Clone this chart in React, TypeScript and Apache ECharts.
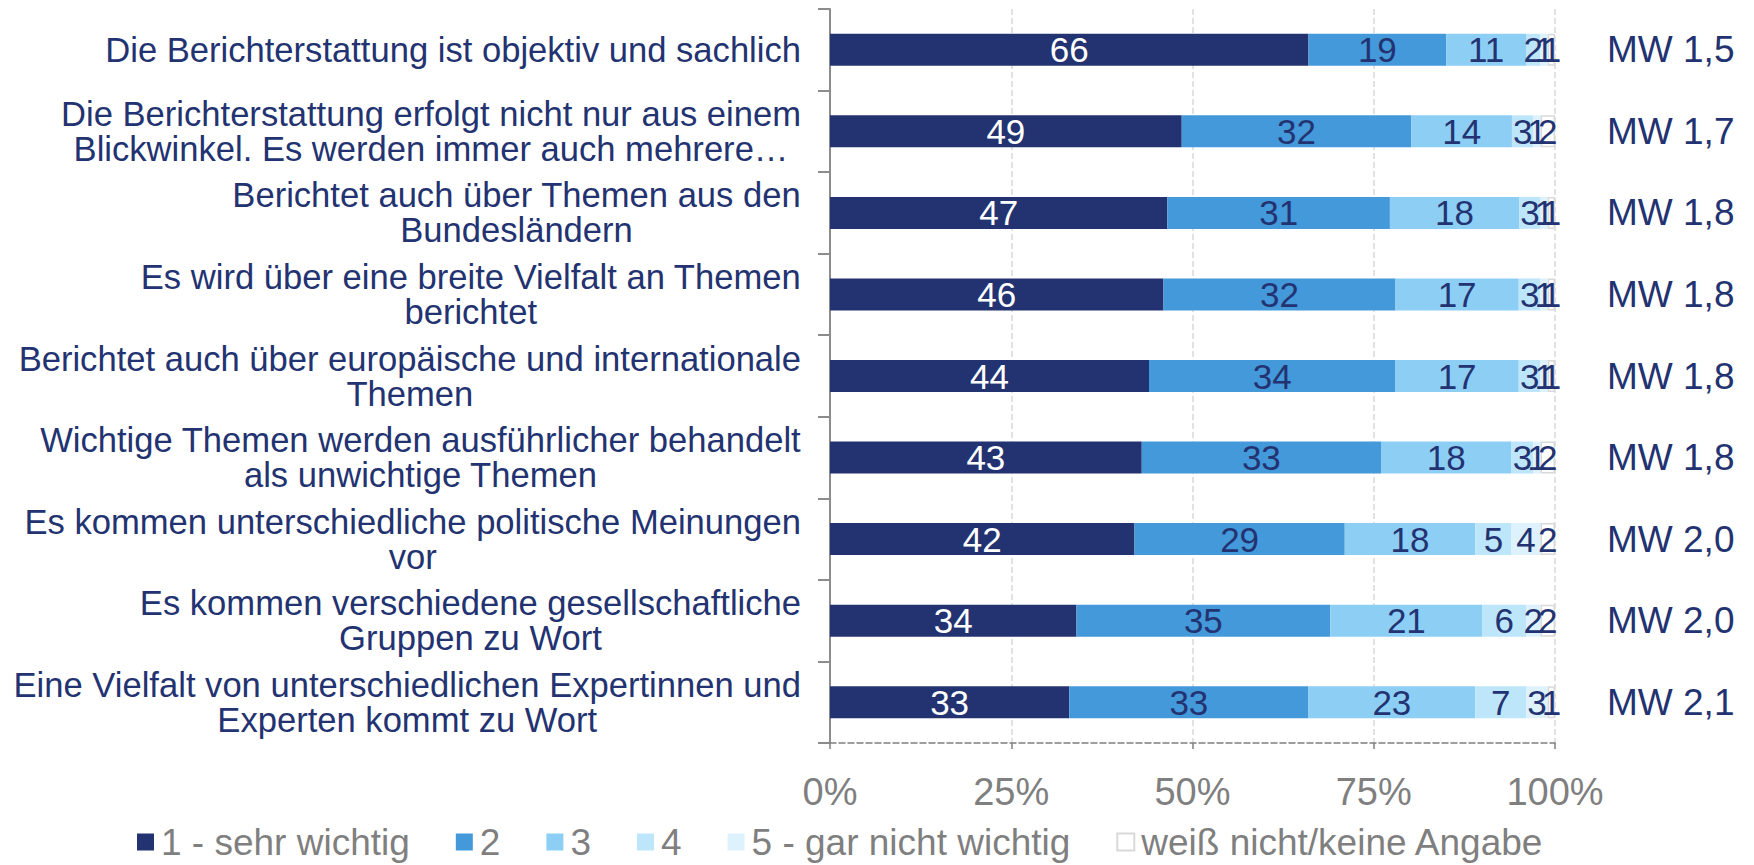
import React, { useEffect, useRef } from "react";
import * as echarts from "echarts";

const categories = [
  "Die Berichterstattung ist objektiv und sachlich",
  "Die Berichterstattung erfolgt nicht nur aus einem\nBlickwinkel. Es werden immer auch mehrere…",
  "Berichtet auch über Themen aus den\nBundesländern",
  "Es wird über eine breite Vielfalt an Themen\nberichtet",
  "Berichtet auch über europäische und internationale\nThemen",
  "Wichtige Themen werden ausführlicher behandelt\nals unwichtige Themen",
  "Es kommen unterschiedliche politische Meinungen\nvor",
  "Es kommen verschiedene gesellschaftliche\nGruppen zu Wort",
  "Eine Vielfalt von unterschiedlichen Expertinnen und\nExperten kommt zu Wort",
];

const meanLabels = ["MW 1,5", "MW 1,7", "MW 1,8", "MW 1,8", "MW 1,8", "MW 1,8", "MW 2,0", "MW 2,0", "MW 2,1"];

const seriesNames = ["1 - sehr wichtig", "2", "3", "4", "5 - gar nicht wichtig", "weiß nicht/keine Angabe"];

const s1 = [66, 49, 47, 46, 44, 43, 42, 34, 33];
const s2 = [19, 32, 31, 32, 34, 33, 29, 35, 33];
const s3 = [11, 14, 18, 17, 17, 18, 18, 21, 23];
const s4 = [2, 3, 3, 3, 3, 3, 5, 6, 7];
const s5 = [1, 1, 1, 1, 1, 1, 4, 2, 3];
const s6 = [1, 2, 1, 1, 1, 2, 2, 2, 1];

const xTicks = [0, 25, 50, 75, 100];

const colors = ["#233371", "#4499DA", "#8DCEF5", "#BDE6FB", "#DDF2FC", "#FFFFFF"];
const NAVY = "#233371";
const GREY = "#7F7F7F";
const FONT = "'Liberation Sans', Arial, Helvetica, sans-serif";

export default function App() {
  const ref = useRef<HTMLDivElement>(null);

  useEffect(() => {
    if (!ref.current) return;
    const chart = echarts.init(ref.current, null, { renderer: "svg" });
    const raw = [s1, s2, s3, s4, s5, s6];
    const sums = categories.map((_, i) => raw.reduce((a, s) => a + s[i], 0));

    const series = raw.map((vals, si) => ({
      type: "bar",
      name: seriesNames[si],
      stack: "total",
      barWidth: 32,
      yAxisIndex: 0,
      data: vals.map((v, i) => (v * 100) / sums[i]),
      itemStyle: {
        color: colors[si],
        borderColor: si === 5 ? "#D9D9D9" : colors[si],
        borderWidth: si === 5 ? 1.5 : 0,
      },
      label: {
        show: true,
        position: "inside",
        fontFamily: FONT,
        fontSize: 35,
        color: si === 0 ? "#FFFFFF" : NAVY,
        formatter: (p: any) => String(vals[p.dataIndex]),
      },
      emphasis: { disabled: true },
    }));

    chart.setOption({
      animation: false,
      textStyle: { fontFamily: FONT },
      grid: { left: 830, right: 199, top: 9, bottom: 122, containLabel: false, outerBoundsMode: "none" },
      legend: {
        data: seriesNames,
        left: 132,
        top: 817,
        icon: "rect",
        itemWidth: 17,
        itemHeight: 17,
        itemGap: 46,
        textStyle: { fontFamily: FONT, fontSize: 37, color: GREY, lineHeight: 40, padding: [0, 0, 0, 2] },
        selectedMode: false,
      },
      xAxis: {
        type: "value",
        min: 0,
        max: 100,
        interval: 25,
        axisLine: { show: true, lineStyle: { color: GREY, width: 1.5, type: "dashed" } },
        axisTick: { show: true, length: 9, lineStyle: { color: GREY, width: 1.5, type: "dashed" } },
        splitLine: { show: true, lineStyle: { color: "#D9D9D9", width: 1.5, type: "dashed" } },
        axisLabel: {
          fontFamily: FONT,
          fontSize: 38,
          color: GREY,
          margin: 30,
          formatter: (v: number) => (xTicks.includes(v) ? `${v}%` : ""),
        },
      },
      yAxis: [
        {
          type: "category",
          data: categories,
          inverse: true,
          axisLine: { show: true, lineStyle: { color: "#8C8C8C", width: 2 } },
          axisTick: { show: true, length: 12, lineStyle: { color: "#8C8C8C", width: 2 } },
          axisLabel: {
            margin: 29,
            align: "right",
            formatter: (v: string) =>
              v
                .split("\n")
                .map((l) => `{c|${l}}`)
                .join("\n"),
            rich: {
              c: { align: "center", fontFamily: FONT, fontSize: 34.6, lineHeight: 35, color: NAVY },
            },
          },
        },
        {
          type: "category",
          data: meanLabels,
          inverse: true,
          position: "right",
          axisLine: { show: false },
          axisTick: { show: false },
          axisLabel: { margin: 52, fontFamily: FONT, fontSize: 37, color: NAVY, align: "left" },
        },
      ],
      series,
    });

    return () => chart.dispose();
  }, []);

  return (
    <div
      ref={ref}
      style={{ position: "fixed", left: 0, top: 0, width: 1754, height: 865, background: "#fff" }}
    />
  );
}
